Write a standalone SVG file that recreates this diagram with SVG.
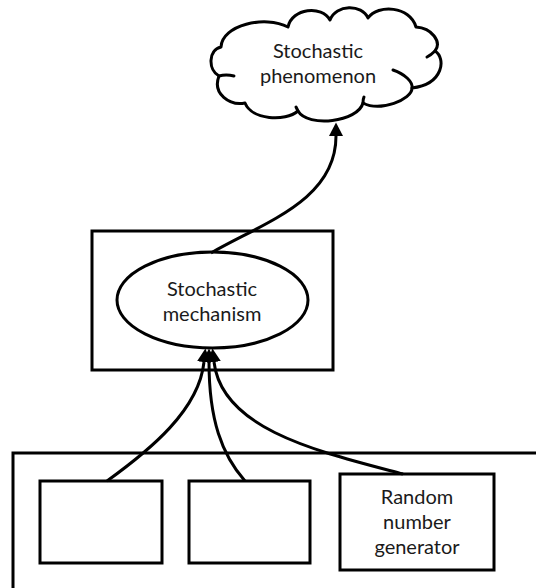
<svg xmlns="http://www.w3.org/2000/svg" width="536" height="588" viewBox="0 0 536 588">
  <style>
    .shape { fill: #ffffff; stroke: #000000; stroke-width: 3; }
    .thin { fill: none; stroke: #000000; stroke-width: 3; stroke-linecap: round; }
    .link { fill: none; stroke: #000000; stroke-width: 3; }
    .label { font-family: Lato, "Open Sans", sans-serif; font-size: 20px; fill: #1a1a1a; text-anchor: middle; }
  </style>
  <defs>
    <marker id="arrow" markerUnits="userSpaceOnUse" markerWidth="14" markerHeight="14"
            viewBox="0 -7 14 14" refX="0" refY="0" orient="auto">
      <path d="M0,-7 L13.5,0 L0,7 z" fill="#000000"/>
    </marker>
  </defs>

  <rect width="536" height="588" fill="#ffffff"/>

  <!-- outer container along the bottom, running off the page -->
  <g id="container">
    <rect class="shape" x="13" y="453" width="600" height="200"/>
  </g>

  <!-- cloud: stochastic phenomenon -->
  <g id="phenomenon">
    <path class="shape" stroke-linejoin="round" d="M219,76
      C 208,70 208,50 221,47
      C 222,25 265,15 288,27
      C 292,8 322,5 330,20
      C 336,4 362,4 368,18
      C 378,4 410,6 416,27
      C 432,28 442,42 435,51
      C 446,58 444,84 412,88
      C 412,100 380,112 363,103
      C 358,122 308,128 298,111
      C 285,122 252,120 245,103
      C 230,106 212,94 219,76 z"/>
    <path class="thin" d="M219,76 Q 226,74 234,76"/>
    <path class="thin" d="M393,70 C 405,74 413,82 412,88"/>
    <path class="thin" d="M435,51 Q 431,55 427,57"/>
    <path class="thin" d="M363,103 Q 363,99 364,97"/>
    <path class="thin" d="M298,111 Q 297,109 296,107"/>
    <text class="label" x="318" y="58">Stochastic</text>
    <text class="label" x="318" y="83">phenomenon</text>
  </g>

  <!-- box holding the stochastic mechanism -->
  <g id="mechanism-box">
    <rect class="shape" x="92" y="231" width="241" height="139"/>
  </g>

  <g id="mechanism">
    <ellipse class="shape" cx="212.5" cy="300" rx="95.5" ry="48"/>
    <text class="label" x="212" y="296">Stochastic</text>
    <text class="label" x="212" y="321">mechanism</text>
  </g>

  <!-- inputs -->
  <g id="input-1">
    <rect class="shape" x="40" y="481" width="122" height="82"/>
  </g>
  <g id="input-2">
    <rect class="shape" x="189" y="481" width="121" height="82"/>
  </g>
  <g id="rng">
    <rect class="shape" x="340" y="474" width="154" height="96"/>
    <text class="label" x="417" y="504">Random</text>
    <text class="label" x="417" y="529">number</text>
    <text class="label" x="417" y="554">generator</text>
  </g>

  <!-- connectors -->
  <g id="connectors">
    <path class="link" marker-end="url(#arrow)" d="M211,253 C 265,222 336,200 336,136"/>
    <path class="link" marker-end="url(#arrow)" d="M107,481 C 150,450 199,410 204,362"/>
    <path class="link" marker-end="url(#arrow)" d="M245,481 C 222,455 209,420 209,362"/>
    <path class="link" marker-end="url(#arrow)" d="M403,474 C 320,452 222,430 214,362"/>
  </g>
</svg>
